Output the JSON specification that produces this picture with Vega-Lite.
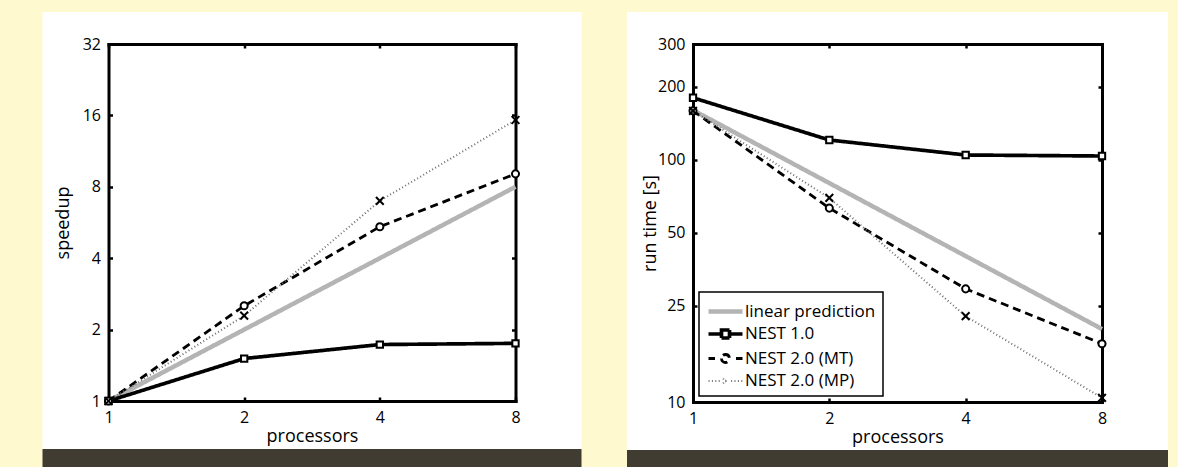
{
  "$schema": "https://vega.github.io/schema/vega-lite/v6.json",
  "background": "#FFF9D0",
  "padding": {"left": -12.5, "top": -30, "right": 0, "bottom": 0},
  "spacing": -15.5,
  "datasets": {
    "speedup": [
      {"series": "linear prediction", "processors": 1, "value": 1},
      {"series": "linear prediction", "processors": 2, "value": 2},
      {"series": "linear prediction", "processors": 4, "value": 4},
      {"series": "linear prediction", "processors": 8, "value": 8},
      {"series": "NEST 1.0", "processors": 1, "value": 1},
      {"series": "NEST 1.0", "processors": 2, "value": 1.51},
      {"series": "NEST 1.0", "processors": 4, "value": 1.73},
      {"series": "NEST 1.0", "processors": 8, "value": 1.75},
      {"series": "NEST 2.0 (MT)", "processors": 1, "value": 1},
      {"series": "NEST 2.0 (MT)", "processors": 2, "value": 2.52},
      {"series": "NEST 2.0 (MT)", "processors": 4, "value": 5.43},
      {"series": "NEST 2.0 (MT)", "processors": 8, "value": 9.07},
      {"series": "NEST 2.0 (MP)", "processors": 1, "value": 1},
      {"series": "NEST 2.0 (MP)", "processors": 2, "value": 2.29},
      {"series": "NEST 2.0 (MP)", "processors": 4, "value": 6.98},
      {"series": "NEST 2.0 (MP)", "processors": 8, "value": 15.3}
    ],
    "runtime": [
      {"series": "linear prediction", "processors": 1, "value": 160},
      {"series": "linear prediction", "processors": 2, "value": 80},
      {"series": "linear prediction", "processors": 4, "value": 40},
      {"series": "linear prediction", "processors": 8, "value": 20},
      {"series": "NEST 1.0", "processors": 1, "value": 180},
      {"series": "NEST 1.0", "processors": 2, "value": 120.5},
      {"series": "NEST 1.0", "processors": 4, "value": 104.5},
      {"series": "NEST 1.0", "processors": 8, "value": 103.5},
      {"series": "NEST 2.0 (MT)", "processors": 1, "value": 159},
      {"series": "NEST 2.0 (MT)", "processors": 2, "value": 63.1},
      {"series": "NEST 2.0 (MT)", "processors": 4, "value": 29.3},
      {"series": "NEST 2.0 (MT)", "processors": 8, "value": 17.4},
      {"series": "NEST 2.0 (MP)", "processors": 1, "value": 159},
      {"series": "NEST 2.0 (MP)", "processors": 2, "value": 69.5},
      {"series": "NEST 2.0 (MP)", "processors": 4, "value": 22.6},
      {"series": "NEST 2.0 (MP)", "processors": 8, "value": 10.4}
    ]
  },
  "hconcat": [
    {
      "width": 407,
      "height": 357,
      "data": {"name": "speedup"},
      "layer": [
        {
          "mark": {"type": "line", "strokeCap": "butt", "clip": false},
          "encoding": {
            "x": {"field": "processors", "type": "quantitative", "scale": {"type": "log", "base": 2, "domain": [1, 8], "nice": false},
                  "axis": {"orient": "bottom", "values": [1, 2, 4, 8], "format": "d", "title": "processors"}},
            "y": {"field": "value", "type": "quantitative", "scale": {"type": "log", "base": 2, "domain": [1, 32], "nice": false},
                  "axis": {"orient": "left", "values": [1, 2, 4, 8, 16, 32], "format": "d", "title": "speedup", "titlePadding": 10}},
            "color": {"field": "series", "type": "nominal", "legend": null,
                      "scale": {"domain": ["linear prediction", "NEST 1.0", "NEST 2.0 (MT)", "NEST 2.0 (MP)"], "range": ["#B4B4B4", "#000000", "#000000", "#707070"]}},
            "strokeDash": {"field": "series", "type": "nominal", "legend": null,
                      "scale": {"domain": ["linear prediction", "NEST 1.0", "NEST 2.0 (MT)", "NEST 2.0 (MP)"], "range": [[1, 0], [1, 0], [8, 5], [1, 2.5]]}},
            "strokeWidth": {"field": "series", "type": "ordinal", "legend": null,
                      "scale": {"domain": ["linear prediction", "NEST 1.0", "NEST 2.0 (MT)", "NEST 2.0 (MP)"], "range": [4.5, 2, 2.5, 1.2]}},
            "order": {"field": "processors", "type": "quantitative"}
          }
        },
        {
          "transform": [{"filter": "datum.series !== 'linear prediction'"}],
          "mark": {"type": "point", "filled": true, "stroke": "black", "strokeWidth": 2, "opacity": 1, "clip": false},
          "encoding": {
            "x": {"field": "processors", "type": "quantitative", "axis": {"orient": "top", "values": [1, 2, 4, 8], "labels": false, "title": null}},
            "y": {"field": "value", "type": "quantitative", "axis": {"orient": "right", "values": [1, 2, 4, 8, 16, 32], "labels": false, "title": null}},
            "shape": {"field": "series", "type": "nominal", "legend": null,
                      "scale": {"domain": ["NEST 1.0", "NEST 2.0 (MT)", "NEST 2.0 (MP)"], "range": ["square", "circle", "M-1,-1L1,1M-1,1L1,-1"]}},
            "fill": {"field": "series", "type": "nominal", "legend": null,
                      "scale": {"domain": ["NEST 1.0", "NEST 2.0 (MT)", "NEST 2.0 (MP)"], "range": ["white", "white", "black"]}},
            "size": {"field": "series", "type": "nominal", "legend": null,
                      "scale": {"domain": ["NEST 1.0", "NEST 2.0 (MT)", "NEST 2.0 (MP)"], "range": [40, 60, 14]}}
          }
        }
      ],
      "resolve": {"axis": {"x": "independent", "y": "independent"}}
    },
    {
      "width": 409,
      "height": 358,
      "data": {"name": "runtime"},
      "layer": [
        {
          "mark": {"type": "line", "strokeCap": "butt", "clip": false},
          "encoding": {
            "x": {"field": "processors", "type": "quantitative", "scale": {"type": "log", "base": 2, "domain": [1, 8], "nice": false},
                  "axis": {"orient": "bottom", "values": [1, 2, 4, 8], "format": "d", "title": "processors"}},
            "y": {"field": "value", "type": "quantitative", "scale": {"type": "log", "base": 10, "domain": [10, 300], "nice": false},
                  "axis": {"orient": "left", "values": [10, 25, 50, 100, 200, 300], "format": "d", "title": "run time [s]", "titlePadding": -2}},
            "color": {"field": "series", "type": "nominal",
                      "scale": {"domain": ["linear prediction", "NEST 1.0", "NEST 2.0 (MT)", "NEST 2.0 (MP)"], "range": ["#B4B4B4", "#000000", "#000000", "#707070"]},
                      "legend": {"title": null, "orient": "bottom-left", "offset": 6,
                        "encode": {"symbols": {"update": {
                          "shape": {"signal": "datum.value === 'NEST 1.0' ? 'M-1.7,0H-0.44M0.44,0H1.7M-0.4,-0.4H0.4V0.4H-0.4Z' : datum.value === 'NEST 2.0 (MT)' ? 'M-1.7,0H-1.05M-0.4,0A0.4,0.4 0 1,0 0.4,0A0.4,0.4 0 1,0 -0.4,0M1.05,0H1.7' : datum.value === 'NEST 2.0 (MP)' ? 'M-1.7,0H-1.58M-1.36,0H-1.24M-1.02,0H-0.9M-0.68,0H-0.56M0.56,0H0.68M0.9,0H1.02M1.24,0H1.36M1.58,0H1.7M-0.24,-0.24L0.24,0.24M-0.24,0.24L0.24,-0.24' : 'M-1.7,0H1.7'"},
                          "strokeWidth": {"signal": "datum.value === 'linear prediction' ? 5 : 2"},
                          "stroke": {"signal": "datum.value === 'linear prediction' ? '#B4B4B4' : 'black'"},
                          "strokeDash": {"value": [1, 0]},
                          "fill": {"value": "white"}
                        }}}}},
            "strokeDash": {"field": "series", "type": "nominal", "legend": null,
                      "scale": {"domain": ["linear prediction", "NEST 1.0", "NEST 2.0 (MT)", "NEST 2.0 (MP)"], "range": [[1, 0], [1, 0], [8, 5], [1, 2.5]]}},
            "strokeWidth": {"field": "series", "type": "ordinal", "legend": null,
                      "scale": {"domain": ["linear prediction", "NEST 1.0", "NEST 2.0 (MT)", "NEST 2.0 (MP)"], "range": [4.5, 2, 2.5, 1.2]}},
            "order": {"field": "processors", "type": "quantitative"}
          }
        },
        {
          "transform": [{"filter": "datum.series !== 'linear prediction'"}],
          "mark": {"type": "point", "filled": true, "stroke": "black", "strokeWidth": 2, "opacity": 1, "clip": false},
          "encoding": {
            "x": {"field": "processors", "type": "quantitative", "axis": {"orient": "top", "values": [1, 2, 4, 8], "labels": false, "title": null}},
            "y": {"field": "value", "type": "quantitative", "axis": {"orient": "right", "values": [10, 25, 50, 100, 200, 300], "labels": false, "title": null}},
            "shape": {"field": "series", "type": "nominal", "legend": null,
                      "scale": {"domain": ["NEST 1.0", "NEST 2.0 (MT)", "NEST 2.0 (MP)"], "range": ["square", "circle", "M-1,-1L1,1M-1,1L1,-1"]}},
            "fill": {"field": "series", "type": "nominal", "legend": null,
                      "scale": {"domain": ["NEST 1.0", "NEST 2.0 (MT)", "NEST 2.0 (MP)"], "range": ["white", "white", "black"]}},
            "size": {"field": "series", "type": "nominal", "legend": null,
                      "scale": {"domain": ["NEST 1.0", "NEST 2.0 (MT)", "NEST 2.0 (MP)"], "range": [40, 60, 14]}}
          }
        }
      ],
      "resolve": {"axis": {"x": "independent", "y": "independent"}}
    }
  ],
  "resolve": {
    "scale": {"color": "independent", "strokeDash": "independent", "strokeWidth": "independent", "shape": "independent", "fill": "independent", "size": "independent"},
    "legend": {"color": "independent", "strokeDash": "independent", "strokeWidth": "independent", "shape": "independent", "fill": "independent", "size": "independent"}
  },
  "config": {
    "view": {
      "fill": "white",
      "strokeWidth": 132,
      "stroke": {"gradient": "linear", "x1": 0, "y1": -0.123, "x2": 0, "y2": 1.183,
        "stops": [
          {"offset": 0, "color": "#FFF9D0"}, {"offset": 0.0257, "color": "#FFF9D0"},
          {"offset": 0.0257, "color": "#FFFFFF"}, {"offset": 0.9636, "color": "#FFFFFF"},
          {"offset": 0.9636, "color": "#403C31"}, {"offset": 1, "color": "#403C31"}
        ]}
    },
    "axis": {
      "domainColor": "black", "domainWidth": 3, "domainCap": "square",
      "tickColor": "black", "tickSize": -4, "tickWidth": 2.5,
      "labelFont": "Open Sans", "labelFontSize": 16, "labelColor": "black", "labelPadding": 12,
      "labelFlush": false, "labelOverlap": false,
      "titleFont": "Open Sans", "titleFontSize": 18, "titleFontWeight": "normal", "titleColor": "black",
      "titlePadding": 2, "grid": false
    },
    "legend": {
      "labelFont": "Open Sans", "labelFontSize": 17, "labelColor": "black",
      "symbolSize": 400, "symbolOffset": 7, "symbolStrokeColor": "black", "symbolStrokeWidth": 2,
      "fillColor": "white", "strokeColor": "black", "strokeWidth": 1.5,
      "padding": 7, "rowPadding": 1, "labelOffset": 7, "labelLimit": 300
    }
  }
}
